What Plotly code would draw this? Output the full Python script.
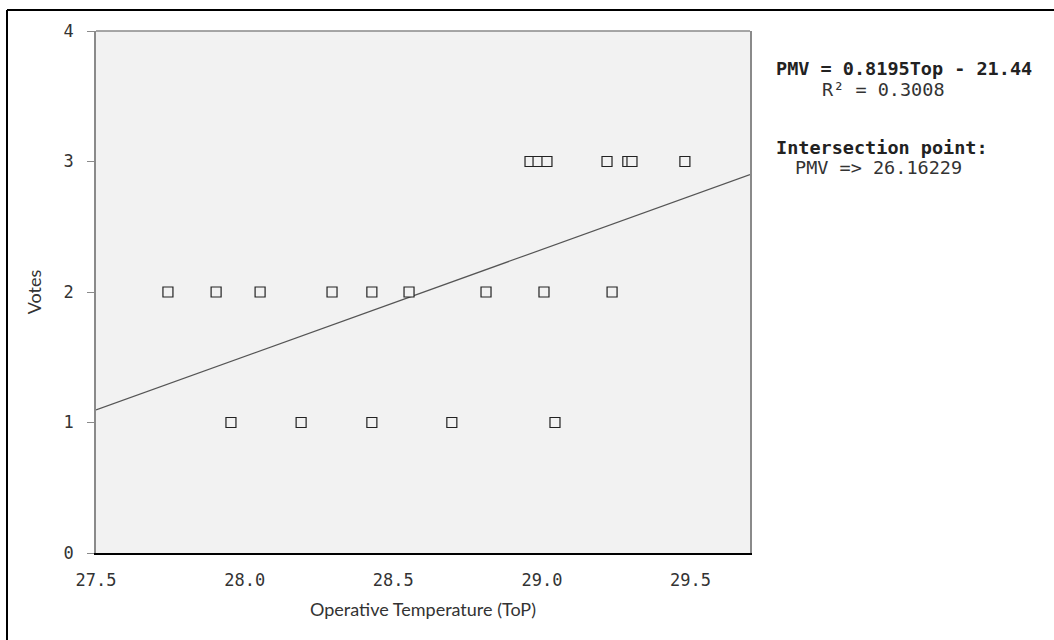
import plotly.graph_objects as go

# Data
temp_vote1 = [27.954, 28.190, 28.428, 28.697, 29.044]
temp_vote2 = [27.742, 27.904, 28.052, 28.294, 28.428, 28.553, 28.812, 29.007, 29.236]
temp_vote3 = [28.960, 28.987, 29.017, 29.219, 29.289, 29.303, 29.481]

slope = 0.8195
intercept = -21.44
r2 = 0.3008
intersection = 26.16229

x_range = [27.5, 29.7]
y_range = [0, 4]
x_ticks = [27.5, 28.0, 28.5, 29.0, 29.5]
y_ticks = [0, 1, 2, 3, 4]

xs = temp_vote1 + temp_vote2 + temp_vote3
ys = [1] * len(temp_vote1) + [2] * len(temp_vote2) + [3] * len(temp_vote3)

W, H = 1054, 640
L, R, T, B = 96, 750, 31, 553

def px(x):
    return (x - L) / (R - L)

def py(y):
    return (B - y) / (B - T)

mono = "DejaVu Sans Mono"
sans = "Lato"

fig = go.Figure()
line_x = x_range
line_y = [slope * v + intercept for v in line_x]
fig.add_trace(go.Scatter(x=line_x, y=line_y, mode="lines",
                         line=dict(color="#555555", width=1.2),
                         hoverinfo="skip", showlegend=False))
fig.add_trace(go.Scatter(x=xs, y=ys, mode="markers",
                         marker=dict(symbol="square", size=10, color="#f2f2f2",
                                     line=dict(color="#222222", width=1.2)),
                         showlegend=False))

fig.update_layout(
    width=W, height=H,
    margin=dict(l=L, r=W - R, t=T, b=H - B, pad=0),
    paper_bgcolor="white",
    plot_bgcolor="#f2f2f2",
    xaxis=dict(range=x_range, tickvals=x_ticks, ticktext=[f"{v:.1f}" for v in x_ticks],
               showgrid=False, zeroline=False, showline=True, linecolor="black",
               linewidth=2, ticks="", ticklen=0, ticklabelstandoff=11,
               tickfont=dict(family=mono, size=17, color="#333333"),
               title=dict(text="Operative Temperature (ToP)",
                          font=dict(family=sans, size=18, color="#333333"), standoff=14)),
    yaxis=dict(range=y_range, tickvals=y_ticks, showgrid=False, zeroline=False,
               showline=True, linecolor="#8a8a8a", linewidth=1.5, mirror=True,
               ticks="outside", ticklen=7, tickcolor="#8a8a8a", tickwidth=1.2,
               ticklabelstandoff=10,
               tickfont=dict(family=mono, size=17, color="#333333"),
               title=dict(text="Votes", font=dict(family=sans, size=18, color="#333333"),
                          standoff=17)),
    shapes=[
        dict(type="line", xref="paper", yref="paper", x0=0, x1=1, y0=1, y1=1,
             line=dict(color="#8a8a8a", width=1.5)),
        dict(type="line", xref="paper", yref="paper", x0=px(7), x1=px(7), y0=py(10), y1=py(700),
             line=dict(color="black", width=2)),
        dict(type="line", xref="paper", yref="paper", x0=px(7), x1=px(1100), y0=py(10), y1=py(10),
             line=dict(color="black", width=2)),
    ],
    annotations=[
        dict(text=f"<b>PMV = {slope}Top - {abs(intercept)}</b>", xref="paper", yref="paper",
             x=px(774), y=py(68), xanchor="left", yanchor="middle", showarrow=False,
             font=dict(family=mono, size=18.5, color="#222222")),
        dict(text=f"R² = {r2}", xref="paper", yref="paper",
             x=px(820), y=py(89), xanchor="left", yanchor="middle", showarrow=False,
             font=dict(family=mono, size=18.5, color="#333333")),
        dict(text="<b>Intersection point:</b>", xref="paper", yref="paper",
             x=px(774), y=py(147), xanchor="left", yanchor="middle", showarrow=False,
             font=dict(family=mono, size=18.5, color="#222222")),
        dict(text=f"PMV => {intersection}", xref="paper", yref="paper",
             x=px(793), y=py(167), xanchor="left", yanchor="middle", showarrow=False,
             font=dict(family=mono, size=18.5, color="#333333")),
    ],
)

fig.write_html("out.html")
